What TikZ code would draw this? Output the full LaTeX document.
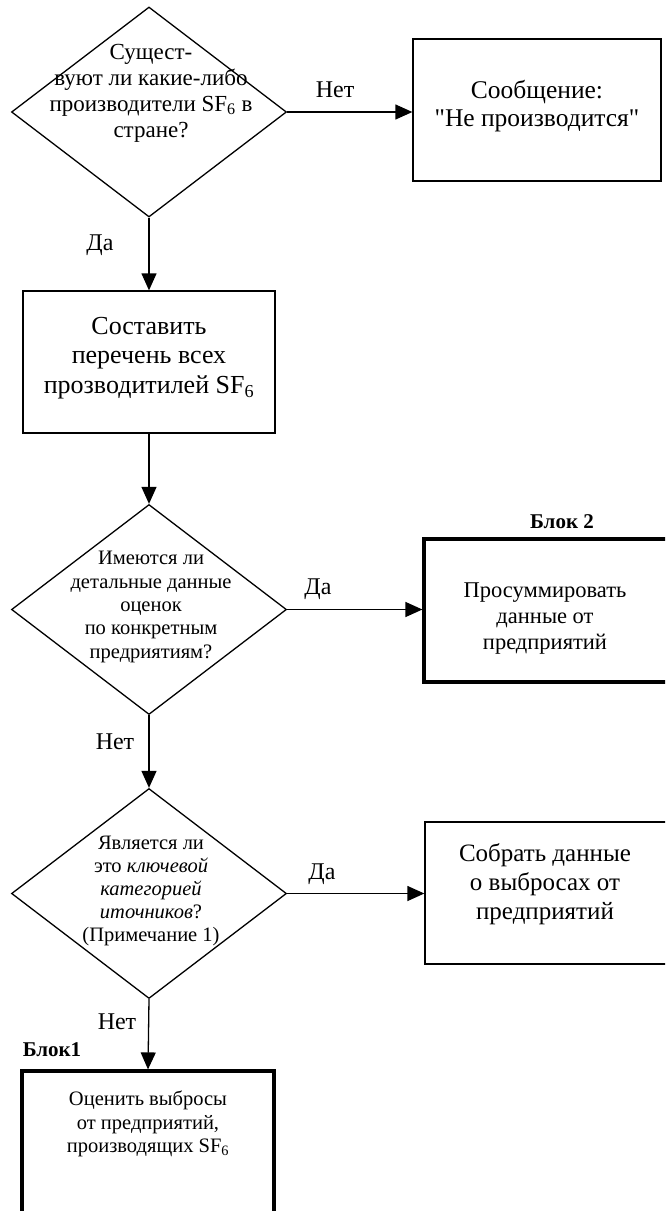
\documentclass[tikz,border=0pt]{standalone}
\usepackage{fontspec}
\setmainfont{Liberation Serif}
% same face, straight double quotes kept as typed
\newfontfamily\straightq{Liberation Serif}[Ligatures=TeXOff]
\usetikzlibrary{shapes.geometric,arrows.meta}
\begin{document}
\begin{tikzpicture}[x=1pt,y=-1pt,
  decision/.style={diamond,draw,line width=1.3pt,minimum width=275pt,minimum height=210pt,inner sep=0pt},
  proc/.style={rectangle,draw,line width=1.3pt,inner sep=0pt},
  block/.style={rectangle,draw,line width=3.2pt,inner sep=0pt},
  txt/.style={align=center,inner sep=0pt},
  flow/.style={line width=1.3pt,-{Triangle[length=17pt,width=15pt]}},
  lbl/.style={inner sep=0pt,font=\fontsize{24}{28}\selectfont},
  blk/.style={inner sep=0pt,font=\fontsize{21}{24}\selectfont\bfseries}]
\useasboundingbox (0,0) rectangle (665,1211);
\clip (0,0) rectangle (665,1211);

% decisions
\node[decision] (d1) at (149,112) {};
\node[decision] (d2) at (149,609.5) {};
\node[decision] (d3) at (149,893.5) {};

% process boxes
\node[proc, minimum width=248pt, minimum height=142pt] (msg) at (537,110) {};
\node[proc, minimum width=252pt, minimum height=142pt] (list) at (149,362) {};
\node[block, minimum width=276pt, minimum height=143pt] (sum) at (562,610.5) {};
\node[proc, minimum width=275pt, minimum height=142pt] (collect) at (562.5,893) {};
\node[block, minimum width=252pt, minimum height=179pt] (est) at (148,1160.5) {};

% texts
\node[txt, font=\fontsize{23}{26}\selectfont] (d1t) at (151,93)
  {Сущест-\\вуют ли какие-либо\\производители SF\textsubscript{6} в\\стране?};
\node[txt, font=\fontsize{20.5}{23.3}\selectfont] (d2t) at (151,607)
  {Имеются ли\\детальные данные\\оценок\\по конкретным\\предриятиям?};
\node[txt, font=\fontsize{20.5}{22.8}\selectfont] (d3t) at (151,891)
  {Является ли\\это \textit{ключевой}\\\textit{категорией}\\\textit{иточников}?\\(Примечание 1)};
\node[txt, font=\fontsize{25.5}{28.5}\selectfont\straightq] (msgt) at (537,106)
  {Сообщение:\\"Не производится"};
\node[txt, font=\fontsize{26}{29.5}\selectfont] (listt) at (149,358)
  {Составить\\перечень всех\\прозводитилей SF\textsubscript{6}};
\node[txt, font=\fontsize{22.5}{26}\selectfont] (sumt) at (545,619)
  {Просуммировать\\данные от\\предприятий};
\node[txt, font=\fontsize{25}{29}\selectfont] (collectt) at (545,884)
  {Собрать данные\\о выбросах от\\предприятий};
\node[txt, font=\fontsize{20.5}{23.5}\selectfont] (estt) at (148,1124)
  {Оценить выбросы\\от предприятий,\\производящих SF\textsubscript{6}};

% block captions
\node[blk] (b2) at (562,522) {Блок 2};
\node[blk] (b1) at (52,1050) {Блок1};

% connectors
\draw[flow] (d1.east) -- (d1.east -| msg.west);
\draw[flow] (d1.south) -- (list.north);
\draw[flow] (list.south) -- (d2.north);
\draw[flow] (d2.east) -- (d2.east -| sum.west);
\draw[flow] (d2.south) -- (d3.north);
\draw[flow] (d3.east) -- (d3.east -| collect.west);
\draw[flow] (d3.south) -- (est.north);

% branch labels
\node[lbl] (l1) at (335,90) {Нет};
\node[lbl] (l2) at (100,245) {Да};
\node[lbl] (l3) at (318,589) {Да};
\node[lbl] (l4) at (115,742) {Нет};
\node[lbl] (l5) at (322,874) {Да};
\node[lbl] (l6) at (117,1022) {Нет};
\end{tikzpicture}
\end{document}
